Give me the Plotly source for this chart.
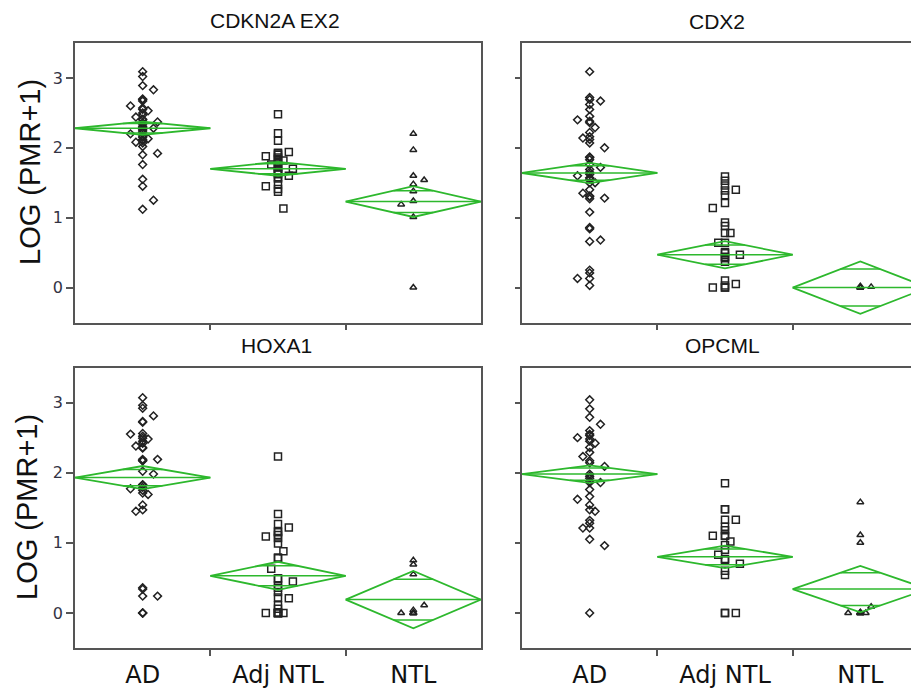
import math
import plotly.graph_objects as go
from plotly.subplots import make_subplots

GROUPS = ["AD", "Adj NTL", "NTL"]
PANEL_TITLES = ["CDKN2A EX2", "CDX2", "HOXA1", "OPCML"]
Y_TICKS = [0, 1, 2, 3]

# ---- CDKN2A EX2 ----
cdkn2a_ad = [3.09, 3.02, 2.89, 2.83, 2.70, 2.69, 2.67, 2.60, 2.57, 2.55, 2.53, 2.50, 2.47, 2.44,
             2.41, 2.40, 2.37, 2.36, 2.34, 2.31, 2.29, 2.28, 2.26, 2.24, 2.22, 2.20, 2.17, 2.15,
             2.13, 2.12, 2.10, 2.08, 2.07, 2.02, 1.92, 1.90, 1.76, 1.55, 1.45, 1.25, 1.12]
cdkn2a_adj = [2.48, 2.21, 2.10, 1.94, 1.93, 1.92, 1.90, 1.88, 1.86, 1.84, 1.82, 1.80, 1.78, 1.76,
              1.74, 1.72, 1.70, 1.68, 1.66, 1.64, 1.62, 1.60, 1.58, 1.56, 1.48, 1.45, 1.41, 1.37, 1.13]
cdkn2a_ntl = [2.20, 1.97, 1.60, 1.54, 1.48, 1.38, 1.24, 1.19, 1.01, 0.0]
cdkn2a_mean = [2.28, 1.70, 1.23]
cdkn2a_ci = [0.095, 0.10, 0.22]

# ---- CDX2 ----
cdx2_ad = [3.09, 2.72, 2.69, 2.67, 2.62, 2.55, 2.45, 2.40, 2.38, 2.36, 2.29, 2.22, 2.16, 2.14,
           2.12, 2.07, 2.00, 1.87, 1.86, 1.83, 1.76, 1.72, 1.69, 1.65, 1.62, 1.60, 1.57, 1.55,
           1.50, 1.50, 1.40, 1.35, 1.31, 1.30, 1.28, 1.27, 1.08, 0.86, 0.84, 0.68, 0.66, 0.25,
           0.21, 0.13, 0.13, 0.03]
cdx2_adj = [1.59, 1.53, 1.46, 1.40, 1.39, 1.32, 1.21, 1.14, 0.93, 0.88, 0.78, 0.78, 0.64, 0.64,
            0.51, 0.49, 0.47, 0.44, 0.42, 0.37, 0.10, 0.05, 0.03, 0.0, 0.0, 0.0]
cdx2_ntl = [0.0, 0.0, 0.0, 0.01, 0.02]
cdx2_mean = [1.64, 0.47, 0.0]
cdx2_ci = [0.145, 0.195, 0.375]

# ---- HOXA1 ----
hoxa1_ad = [3.07, 2.96, 2.92, 2.81, 2.73, 2.72, 2.56, 2.55, 2.52, 2.49, 2.48, 2.45, 2.42, 2.38,
            2.36, 2.35, 2.19, 2.19, 2.17, 2.17, 2.02, 1.98, 1.83, 1.82, 1.79, 1.77, 1.75, 1.71,
            1.69, 1.54, 1.47, 1.45, 0.36, 0.34, 0.24, 0.24, 0.0, 0.0, 0.0]
hoxa1_adj = [2.23, 1.41, 1.27, 1.22, 1.16, 1.15, 1.11, 1.09, 1.07, 0.99, 0.88, 0.79, 0.78, 0.63,
             0.49, 0.49, 0.45, 0.39, 0.36, 0.30, 0.22, 0.21, 0.11, 0.06, 0.0, 0.0, 0.0, 0.0,
             0.0, 0.0, 0.0]
hoxa1_ntl = [0.75, 0.69, 0.55, 0.11, 0.04, 0.0, 0.0, 0.0, 0.0, 0.0]
hoxa1_mean = [1.93, 0.53, 0.19]
hoxa1_ci = [0.165, 0.20, 0.41]

# ---- OPCML ----
opcml_ad = [3.04, 2.91, 2.79, 2.69, 2.60, 2.55, 2.53, 2.50, 2.48, 2.45, 2.42, 2.36, 2.29, 2.23,
            2.17, 2.14, 2.09, 1.98, 1.95, 1.92, 1.88, 1.86, 1.86, 1.76, 1.66, 1.62, 1.54, 1.47,
            1.45, 1.32, 1.28, 1.21, 1.21, 1.05, 0.96, 0.0]
opcml_adj = [1.85, 1.48, 1.48, 1.33, 1.33, 1.23, 1.18, 1.10, 1.10, 1.10, 1.02, 0.97, 0.90, 0.83,
             0.77, 0.75, 0.70, 0.60, 0.54, 0.0, 0.0, 0.0]
opcml_ntl = [1.58, 1.11, 1.00, 0.09, 0.01, 0.0, 0.0, 0.0, 0.0, 0.0, 0.0]
opcml_mean = [1.98, 0.80, 0.34]
opcml_ci = [0.125, 0.16, 0.33]

panels = [
    ([cdkn2a_ad, cdkn2a_adj, cdkn2a_ntl], cdkn2a_mean, cdkn2a_ci),
    ([cdx2_ad, cdx2_adj, cdx2_ntl], cdx2_mean, cdx2_ci),
    ([hoxa1_ad, hoxa1_adj, hoxa1_ntl], hoxa1_mean, hoxa1_ci),
    ([opcml_ad, opcml_adj, opcml_ntl], opcml_mean, opcml_ci),
]

PAGE_W, PAGE_H = 919, 689
OFF = 8  # default page body margin
W, H = PAGE_W - OFF, PAGE_H - OFF


def px(x):
    return (x - OFF) / W


def py(y):
    return (H - (y - OFF)) / H


GREEN = "#2db82d"
MARK = "#222222"
AXC = "#555555"
SYMBOLS = ["diamond-open", "square-open", "triangle-up-open"]
SIZES = [6, 7, 6]
JIT = [0, 0, 0, 0.08, 0, 0, 0, -0.09, 0, 0, 0.04, 0, 0, -0.05, 0, 0, 0.11, 0]

fig = make_subplots(rows=2, cols=2)

for p, (groups, means, cis) in enumerate(panels):
    r, c = p // 2 + 1, p % 2 + 1
    for g, vals in enumerate(groups):
        xs = [g + 0.5 + JIT[i % len(JIT)] for i in range(len(vals))]
        fig.add_trace(go.Scatter(
            x=xs, y=vals, mode="markers",
            marker=dict(symbol=SYMBOLS[g], size=SIZES[g], color=MARK,
                        line=dict(width=1.5, color=MARK)),
            showlegend=False, hoverinfo="y"), row=r, col=c)
        m, ci = means[g], cis[g]
        d = ci / math.sqrt(2)
        hw = 0.5 * (1 - 1 / math.sqrt(2))
        fig.add_trace(go.Scatter(
            x=[g, g + 0.5, g + 1, g + 0.5, g], y=[m, m + ci, m, m - ci, m],
            mode="lines", line=dict(color=GREEN, width=1.8),
            showlegend=False, hoverinfo="skip"), row=r, col=c)
        fig.add_trace(go.Scatter(
            x=[g, g + 1, None, g + 0.5 - hw, g + 0.5 + hw, None, g + 0.5 - hw, g + 0.5 + hw],
            y=[m, m, None, m + d, m + d, None, m - d, m - d],
            mode="lines", line=dict(color=GREEN, width=1.5),
            showlegend=False, hoverinfo="skip"), row=r, col=c)

left_dom = [px(75), px(481)]
right_dom = [px(522), 1.0]
top_dom = [py(322.5), py(43)]
bot_dom = [py(648), py(367.5)]
grp_px = (481 - 75) / 3.0
right_max = (PAGE_W - 522) / grp_px

for p in range(4):
    r, c = p // 2, p % 2
    ax = "" if p == 0 else str(p + 1)
    xdom = left_dom if c == 0 else right_dom
    ydom = top_dom if r == 0 else bot_dom
    fig.layout["xaxis" + ax].update(
        domain=xdom, range=[0, 3 if c == 0 else right_max],
        tickmode="array", tickvals=[0.5, 1.5, 2.5], ticktext=GROUPS,
        showticklabels=(r == 1), ticks="", ticklabelstandoff=4,
        tickfont=dict(family="DejaVu Sans", size=24, color="#111111"),
        minor=dict(tickmode="array", tickvals=[1, 2], ticks="outside", ticklen=6,
                   tickcolor=AXC, tickwidth=1.5),
        showline=True, linecolor=AXC, linewidth=1.8, mirror=True,
        showgrid=False, zeroline=False)
    fig.layout["yaxis" + ax].update(
        domain=ydom, range=[-0.5, 3.5], tickmode="array", tickvals=Y_TICKS,
        showticklabels=(c == 0), ticks="outside", ticklen=7 if c == 0 else 5,
        tickcolor=AXC, tickwidth=1.5,
        tickfont=dict(family="DejaVu Sans", size=16, color="#333344"),
        showline=True, linecolor=AXC, linewidth=1.8, mirror=(c == 0),
        showgrid=False, zeroline=False)

annos = []
title_pos = [(275, 20), (717, 21), (276, 345), (722, 345)]
for t, (tx, ty) in zip(PANEL_TITLES, title_pos):
    annos.append(dict(text=t, x=px(tx), y=py(ty), xref="paper", yref="paper",
                      xanchor="center", yanchor="middle", showarrow=False,
                      font=dict(family="Liberation Sans, Arial", size=21, color="#111111")))
for (tx, ty) in [(30, 172), (27, 507)]:
    annos.append(dict(text="LOG (PMR+1)", x=px(tx), y=py(ty), xref="paper", yref="paper",
                      xanchor="center", yanchor="middle", textangle=-90, showarrow=False,
                      font=dict(family="Liberation Sans, Arial", size=29, color="#111111")))

fig.update_layout(width=W, height=H, margin=dict(l=0, r=0, t=0, b=0),
                  paper_bgcolor="white", plot_bgcolor="white", annotations=annos,
                  showlegend=False)

fig.write_html("out.html")
